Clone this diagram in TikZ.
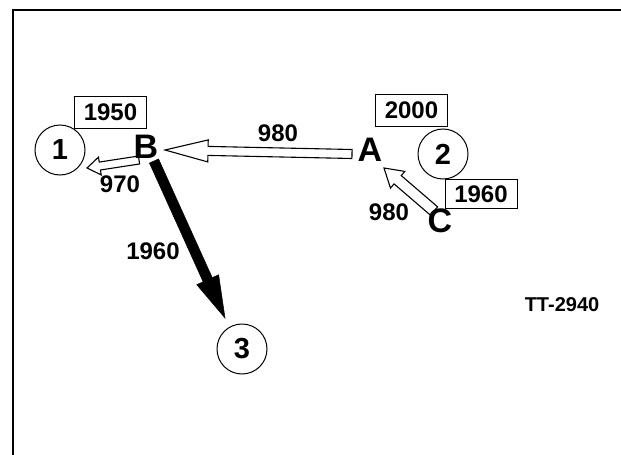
\documentclass[tikz,border=0pt]{standalone}
\usepackage{fontspec}
\setmainfont{Liberation Sans}
\usetikzlibrary{calc}
\newcommand{\blockarrow}[6]{%
  \coordinate (bh) at ($(#2)!#5!(#1)$);
  \draw[#6] ($(#1)!#3!90:(#2)$) -- ($(bh)!#3!-90:(#1)$) -- ($(bh)!#4!-90:(#1)$) -- (#2)
    -- ($(bh)!#4!90:(#1)$) -- ($(bh)!#3!90:(#1)$) -- ($(#1)!#3!-90:(#2)$) -- cycle;
}
\tikzset{
  numbox/.style={draw, line width=1pt, minimum width=72pt, minimum height=32pt, inner sep=0pt, font=\bfseries\fontsize{24}{24}\selectfont},
  station/.style={draw, circle, line width=1pt, minimum size=50pt, inner sep=0pt, font=\bfseries\fontsize{29}{29}\selectfont},
  letter/.style={inner sep=0pt, font=\bfseries\fontsize{34}{34}\selectfont},
  flow/.style={inner sep=0pt, font=\bfseries\fontsize{24}{24}\selectfont},
  hollow/.style={draw, fill=white, line width=1.1pt, line join=miter},
  solidarrow/.style={draw, fill=black, line width=0.5pt, line join=miter},
  frame/.style={line width=2pt}
}
\begin{document}
\begin{tikzpicture}[x=1pt,y=-1pt]
\useasboundingbox (0,0) rectangle (621,455);
% frame
\coordinate (f1) at (13,456);
\coordinate (f2) at (13,10);
\coordinate (f3) at (622,10);
\draw[frame] (f1) -- (f2) -- (f3);

% stations
\node[station] (c1) at (60,150) {1};
\node[station] (c2) at (443,154) {2};
\node[station] (c3) at (242,349) {3};

% boxes
\node[numbox] (b1950) at (110.5,112) {1950};
\node[numbox] (b2000) at (411.5,110) {2000};
\node[numbox, minimum height=29pt] (b1960) at (481,194) {1960};

% arrow ends
\coordinate (ABtail) at (352,154);
\coordinate (ABtip) at (165,150);
\coordinate (CAtail) at (434,211);
\coordinate (CAtip) at (384,168);
\coordinate (B1tail) at (139,160);
\coordinate (B1tip) at (87,168);
\coordinate (B3tail) at (154,161);
\coordinate (B3tip) at (225,318);

\blockarrow{ABtail}{ABtip}{4.5pt}{11pt}{43pt}{hollow}
\blockarrow{CAtail}{CAtip}{5.5pt}{11pt}{18pt}{hollow}
\blockarrow{B1tail}{B1tip}{4pt}{9pt}{13pt}{hollow}
\blockarrow{B3tail}{B3tip}{5pt}{12pt}{42pt}{solidarrow}

% letters
\node[letter] (B) at (146,147) {B};
\node[letter] (A) at (370,150) {A};
\node[letter] (C) at (440,221) {C};

% flow labels
\node[flow] (lAB) at (278,133) {980};
\node[flow] (lCA) at (389,212) {980};
\node[flow] (lB1) at (120,184) {970};
\node[flow] (lB3) at (153,251) {1960};

\node[inner sep=0pt, font=\bfseries\fontsize{20}{20}\selectfont] (tt) at (562,305) {TT-2940};
\end{tikzpicture}
\end{document}
